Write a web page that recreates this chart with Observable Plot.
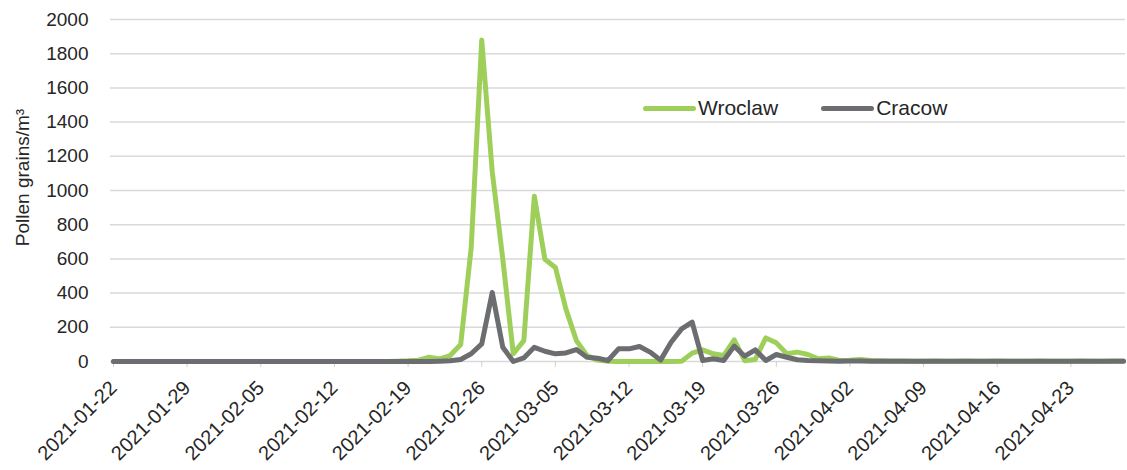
<!DOCTYPE html>
<html><head><meta charset="utf-8">
<script src="https://cdn.jsdelivr.net/npm/d3@7"></script>
<script src="https://cdn.jsdelivr.net/npm/@observablehq/plot@0.6"></script>
<style>
body{margin:0;background:#fff;font-family:"Liberation Sans",sans-serif}
#wrap{position:relative;width:1127px;height:470px}
.legend{position:absolute;top:95px;left:643px;display:flex;align-items:center;font-size:21px;line-height:26px;color:#262626;font-family:"Liberation Sans",sans-serif}
.sw{display:inline-block;width:53px;height:5px;border-radius:3px;margin-right:2px}
.item{display:flex;align-items:center;margin-right:43px}
</style></head><body><div id="wrap"></div>
<script>
const startDate = "2021-01-22";
const endDate = "2021-04-28";
const seriesNames = ["Wroclaw", "Cracow"];
const seriesColors = ["#9fcf5b", "#6c6d70"];
const yTitle = "Pollen grains/m³";
// daily values from 2021-01-22 to 2021-04-28 (97 days)
const wroclaw = [
  0,0,0,0,0,0,0,0,0,0,
  0,0,0,0,0,0,0,0,0,0,
  0,0,0,0,0,0,0,2,4,8,
  25,15,35,99,666,1880,1110,600,45,122,
  967,598,550,307,122,35,8,1,0,0,
  0,0,0,0,2,49,68,45,35,127,
  5,12,138,109,45,55,41,16,21,6,
  8,12,6,4,3,3,2,2,3,2,
  2,3,2,2,3,2,2,2,3,2,
  2,2,3,2,2,3,3
];
const cracow = [
  0,0,0,0,0,0,0,0,0,0,
  0,0,0,0,0,0,0,0,0,0,
  0,0,0,0,0,0,0,0,0,0,
  0,2,5,12,45,103,404,83,0,21,
  83,60,45,50,70,25,19,6,74,74,
  88,55,8,113,191,230,6,16,6,90,
  31,68,6,41,25,10,6,4,3,2,
  3,3,2,2,1,1,1,1,1,1,
  1,1,1,1,1,1,1,1,1,1,
  1,1,1,1,1,1,1
];
const xTickLabels = ["2021-01-22","2021-01-29","2021-02-05","2021-02-12","2021-02-19","2021-02-26","2021-03-05","2021-03-12","2021-03-19","2021-03-26","2021-04-02","2021-04-09","2021-04-16","2021-04-23"];
const yTicks = [0,200,400,600,800,1000,1200,1400,1600,1800,2000];

const start = new Date(startDate + "T00:00:00Z");
const rowsFor = (vals, name) => vals.map((v, i) => ({date: d3.utcDay.offset(start, i), value: v, series: name}));
const wRows = rowsFor(wroclaw, seriesNames[0]);
const cRows = rowsFor(cracow, seriesNames[1]);
const xTicks = xTickLabels.map(s => new Date(s + "T00:00:00Z"));

const chart = Plot.plot({
  width: 1127, height: 470,
  marginLeft: 110, marginRight: 2, marginTop: 19, marginBottom: 109,
  style: {fontFamily: "Liberation Sans, sans-serif", fontSize: "19px", color: "#262626", background: "#fff"},
  x: {type: "utc", domain: [start, new Date(endDate + "T00:00:00Z")], insetLeft: 3, insetRight: 2},
  y: {domain: [0, 2000]},
  marks: [
    Plot.gridY(yTicks, {stroke: "#d9d9d9", strokeOpacity: 1, strokeWidth: 1.5}),
    Plot.axisX(xTicks, {tickFormat: d3.utcFormat("%Y-%m-%d"), tickRotate: -45, tickSize: 6, stroke: "#d0d0d0", fill: "#262626", fontSize: 20, label: null, tickPadding: 17}),
    Plot.axisY(yTicks, {tickSize: 0, tickPadding: 22, fontSize: 19, fill: "#262626", tickFormat: d => String(d), label: null}),
    Plot.text([yTitle], {text: d => d, frameAnchor: "left", textAnchor: "middle", dx: -88, dy: -13, rotate: -90, fontSize: 19, fill: "#262626"}),
    Plot.line(wRows, {x: "date", y: "value", stroke: seriesColors[0], strokeWidth: 5, strokeLinejoin: "round", strokeLinecap: "round"}),
    Plot.line(cRows, {x: "date", y: "value", stroke: seriesColors[1], strokeWidth: 5, strokeLinejoin: "round", strokeLinecap: "round"})
  ]
});
const wrap = document.getElementById("wrap");
wrap.appendChild(chart);
const leg = document.createElement("div");
leg.className = "legend";
seriesNames.forEach((n, i) => {
  const it = document.createElement("span");
  it.className = "item";
  const sw = document.createElement("span");
  sw.className = "sw";
  sw.style.background = seriesColors[i];
  it.appendChild(sw);
  it.appendChild(document.createTextNode(n));
  leg.appendChild(it);
});
wrap.appendChild(leg);
</script>
</body></html>
